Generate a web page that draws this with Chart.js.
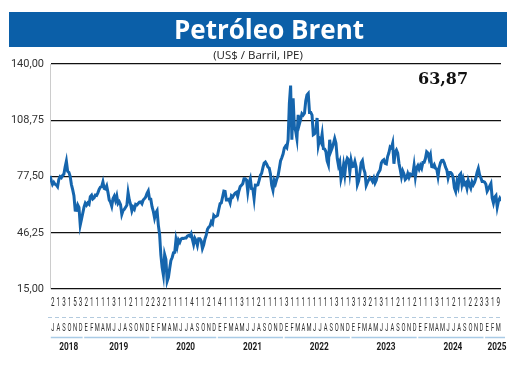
<!DOCTYPE html>
<html>
<head>
<meta charset="utf-8">
<script src="https://cdn.jsdelivr.net/npm/chart.js@4.4.0/dist/chart.umd.min.js"></script>
<style>
  body { margin: 0; background: #fff; }
  #wrap { width: 520px; height: 374px; position: relative; }
</style>
</head>
<body>
<div id="wrap"><canvas id="mycanvas"></canvas></div>
<script>
// Brent semanal (US$/barril), jul-2018 a may-2025
var p2018 = [77.8,75.3,73.1,74.3, 73.2,72.8,71.8,75.8,77.4, 76.8,78.1,78.8,82.7, 86.0,80.4,79.8,77.6, 73.0,70.2,66.8,58.8,58.7, 61.7,60.3,50.5,53.8];
var p2019 = [57.1,60.5,62.7,61.6, 62.8,62.1,66.3,67.1, 65.1,65.7,67.2,67.0,68.4, 70.3,71.6,71.9,74.5, 70.9,70.6,72.2,68.7,64.5, 63.3,61.0,65.2,66.6, 64.2,66.7,62.5,63.5, 61.9,56.5,58.6,59.3,60.4, 61.5,68.5,64.3,61.9, 58.4,60.5,59.4,62.0, 61.7,62.5,63.3,63.4,62.4, 64.4,65.2,66.1,68.2];
var p2020 = [69.5,65.0,64.9,60.7,58.2, 54.5,57.3,58.5,50.5, 45.3,33.9,27.0,22.7, 34.1,31.5,19.3,21.4, 26.4,30.9,32.5,35.1,35.3, 42.3,38.7,42.2,41.0, 42.8,43.2,43.1,43.3,43.3, 44.4,44.8,44.4,45.8, 42.7,39.8,43.2,41.9, 39.3,42.9,42.9,41.8,37.5, 39.5,42.8,44.9,48.2, 49.3,50.0,52.3,51.3];
var p2021 = [55.9,55.1,55.4,55.9, 59.3,62.4,62.9,66.1, 69.4,69.2,64.5,64.6, 64.9,62.9,66.8,66.1,67.3, 68.3,68.7,66.4,69.6, 71.9,72.7,73.5,76.2, 76.2,75.6,69.0,74.1,76.3, 70.7,70.6,65.2,72.7, 72.6,72.9,75.3,78.1, 79.3,82.4,84.9,85.5,84.4, 82.7,82.2,78.9,72.7, 69.9,75.2,73.5,76.1,77.8];
var p2022 = [81.8,86.1,87.9,90.0, 93.3,94.4,93.5,97.9, 118.1,128.0,98.0,121.0,105.0, 102.8,98.5,111.7,106.7,109.3, 112.4,111.6,112.6,119.4, 122.8,123.6,113.1,113.1, 111.6,100.7,101.2,103.2,110.0, 94.9,98.2,96.7,101.0, 93.0,92.8,91.4,86.2,84.1, 97.9,91.6,93.5,95.8, 98.6,96.0,87.6,83.6, 85.6,76.1,79.0,83.9];
var p2023 = [78.6,85.3,87.6,86.7, 79.9,86.4,83.0,83.2, 85.8,82.8,73.0,75.0,79.8, 85.1,86.3,81.7,79.5, 72.5,74.2,75.6,76.9, 76.1,74.8,76.6,73.9,75.4, 78.5,79.9,81.1,85.0, 86.2,86.8,84.8,84.5, 88.6,90.7,93.9,93.3,96.0, 84.6,90.9,92.2,90.5, 84.9,81.4,77.4,80.6, 78.9,75.8,76.6,79.1,77.0];
var p2024 = [78.8,78.3,78.6,83.6, 77.3,82.2,83.5,81.6, 83.6,82.1,85.3,85.4,87.5, 91.2,90.5,87.3,89.5, 83.0,82.8,84.0,82.1,81.6, 77.5,82.6,85.2,86.4, 86.5,85.0,82.6,81.1, 76.8,79.7,79.7,79.0,76.9, 71.1,69.2,74.5,72.0, 78.1,79.0,73.1,76.1, 73.1,73.9,71.0,75.2,72.9, 71.1,74.5,72.9,74.2];
var p2025 = [76.5,79.8,82.0,78.5,76.8, 74.7,74.7,74.4,73.2, 69.3,70.6,72.2,73.6, 65.6,62.8,66.0,66.9, 60.5,63.9,65.4,63.87];

var monthLetters = ('JASOND' + 'EFMAMJJASOND'.repeat(6) + 'EFM').split('');
var monthDigits = ('21315321111311211223211114' + '11214111311211113111111113113' + '13213112112111311211223319').split('');
var years = ['2018', '2019', '2020', '2021', '2022', '2023', '2024', '2025'];
var yearFirstMonth = [0, 6, 18, 30, 42, 54, 66, 78];
var yearLastMonth = [5, 17, 29, 41, 53, 65, 77, 80];
var lastValue = '63,87';

var prices = [].concat(p2018, p2019, p2020, p2021, p2022, p2023, p2024, p2025);
var points = [];
for (var i in prices) {
  points.push({ x: i * 7 / 30.44, y: prices[i] });
}

function condensed(ctx, text, x, y, sx) {
  ctx.save();
  ctx.translate(x, y);
  ctx.scale(sx, 1);
  ctx.fillText(text, 0, 0);
  ctx.restore();
}

var decor = {
  id: 'decor',
  beforeDraw: function(chart) {
    var ctx = chart.ctx;
    ctx.save();
    ctx.fillStyle = '#ffffff';
    ctx.fillRect(0, 0, chart.width, chart.height);
    ctx.fillStyle = '#0b5fa8';
    ctx.fillRect(9, 12, 498, 35);
    ctx.fillStyle = '#ffffff';
    ctx.font = 'bold 26px "Open Sans"';
    ctx.textAlign = 'center';
    ctx.textBaseline = 'alphabetic';
    ctx.fillText('Petróleo Brent', 269, 39);
    ctx.fillStyle = '#222';
    ctx.font = '11.5px "Open Sans"';
    ctx.textBaseline = 'middle';
    ctx.fillText('(US$ / Barril, IPE)', 258, 56);
    ctx.restore();
  },
  afterDraw: function(chart) {
    var ctx = chart.ctx;
    var xm = chart.scales.xm;
    var area = chart.chartArea;
    ctx.save();
    ctx.fillStyle = '#111';
    ctx.font = 'bold 16px "DejaVu Serif"';
    ctx.textAlign = 'left';
    ctx.textBaseline = 'alphabetic';
    ctx.fillText(lastValue, 418, 84);

    ctx.textAlign = 'center';
    ctx.textBaseline = 'middle';
    ctx.fillStyle = '#2a2a2a';
    ctx.font = '12.5px Roboto';
    for (var i = 0; i < monthDigits.length; i++) {
      condensed(ctx, monthDigits[i], xm.getPixelForValue(i), 303, 0.5);
    }
    ctx.font = '10.5px Roboto';
    for (var i = 0; i < monthLetters.length; i++) {
      condensed(ctx, monthLetters[i], xm.getPixelForValue(i), 328, 0.55);
    }

    ctx.strokeStyle = '#b3cade';
    ctx.lineWidth = 1;
    ctx.setLineDash([4, 3]);
    ctx.beginPath();
    ctx.moveTo(area.left - 2, 317.5);
    ctx.lineTo(area.right, 317.5);
    ctx.stroke();
    ctx.setLineDash([]);

    ctx.strokeStyle = '#a9cbe6';
    ctx.lineWidth = 1.5;
    ctx.fillStyle = '#1a1a1a';
    ctx.font = 'bold 11px Roboto';
    for (var k = 0; k < years.length; k++) {
      var x1 = xm.getPixelForValue(yearFirstMonth[k]) - 2;
      var x2 = xm.getPixelForValue(yearLastMonth[k]) + 2;
      if (k == years.length - 1) x2 = area.right + 4;
      ctx.beginPath();
      ctx.moveTo(x1, 337.5);
      ctx.lineTo(x2, 337.5);
      ctx.stroke();
      condensed(ctx, years[k], (x1 + x2) / 2 + 2, 347, 0.75);
    }
    ctx.restore();
  }
};

var ctx = document.getElementById('mycanvas');
new Chart(ctx, {
  type: 'line',
  data: {
    datasets: [{
      data: points,
      borderColor: '#1565ad',
      borderWidth: 3,
      pointRadius: 0,
      tension: 0,
      fill: false
    }]
  },
  options: {
    responsive: true,
    maintainAspectRatio: false,
    animation: false,
    layout: { padding: { top: 64, bottom: 85, left: 0, right: 19 } },
    plugins: { legend: { display: false }, tooltip: { enabled: false } },
    scales: {
      x: {
        type: 'linear',
        display: false,
        min: 0,
        max: points[points.length - 1].x
      },
      xm: {
        type: 'category',
        labels: monthLetters,
        offset: true,
        display: false
      },
      y: {
        min: 15,
        max: 140,
        afterFit: function(scale) { scale.width = 50; },
        ticks: {
          stepSize: 31.25,
          padding: 6,
          color: '#333',
          font: { family: 'Roboto', size: 11 },
          callback: function(v) { return v.toFixed(2).replace('.', ','); }
        },
        grid: { color: '#111', lineWidth: 1.2, drawTicks: false },
        border: { display: true, color: '#cccccc', width: 1 }
      }
    }
  },
  plugins: [decor]
});
</script>
</body>
</html>
